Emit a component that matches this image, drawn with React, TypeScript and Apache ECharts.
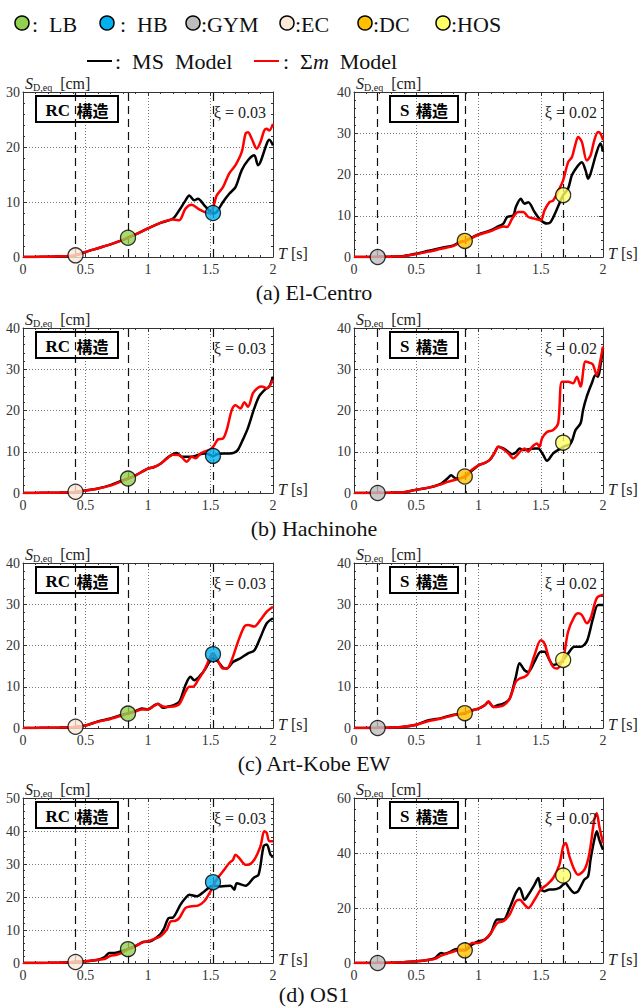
import React, { useEffect, useRef } from "react";
import * as echarts from "echarts";

const FONT = "'Liberation Serif', 'Times New Roman', serif";
const CJK = "'Noto Sans CJK JP', 'Noto Sans CJK SC', sans-serif";
const FRAME = "#333";

// ---------- data (T [s], S_D,eq [cm]) ----------
const elCentroRC_MS = [[0,0],[0.1,0.02],[0.2,0.06],[0.3,0.12],[0.4,0.25],[0.45,0.5],[0.5,0.9],[0.6,1.6],[0.7,2.3],[0.8,3.1],[0.84,3.5],[0.9,4.1],[1.0,5.2],[1.1,6.2],[1.2,7.0],[1.25,8.5],[1.3,10.3],[1.33,11.2],[1.37,10.3],[1.4,10.6],[1.45,9.4],[1.5,8.2],[1.52,7.9],[1.55,8.2],[1.6,10.0],[1.65,11.5],[1.7,12.7],[1.75,15.8],[1.8,17.6],[1.85,18.5],[1.88,16.7],[1.9,17.3],[1.95,20.6],[1.97,21.3],[2.0,20.3]];
const elCentroRC_Sm = [[0,0],[0.1,0.02],[0.2,0.06],[0.3,0.12],[0.4,0.25],[0.45,0.5],[0.5,0.9],[0.6,1.6],[0.7,2.3],[0.8,3.1],[0.84,3.5],[0.9,4.1],[1.0,5.2],[1.1,6.2],[1.2,6.8],[1.25,6.7],[1.3,8.8],[1.35,9.5],[1.4,8.8],[1.45,8.2],[1.5,7.9],[1.53,9.7],[1.55,11.2],[1.6,12.7],[1.65,15.2],[1.7,16.7],[1.75,19.1],[1.78,22.4],[1.8,22.7],[1.83,21.5],[1.87,19.7],[1.9,20.9],[1.93,23.0],[1.95,23.3],[1.97,23.0],[2.0,24.2]];

const elCentroS_MS = [[0,0],[0.1,0.01],[0.2,0.03],[0.3,0.08],[0.4,0.25],[0.5,0.8],[0.6,1.5],[0.7,2.2],[0.8,2.8],[0.85,3.6],[0.89,3.9],[0.95,4.8],[1.0,5.5],[1.1,6.5],[1.15,7.3],[1.2,8.1],[1.23,9.7],[1.28,10.1],[1.3,12.1],[1.34,14.1],[1.37,12.9],[1.4,13.3],[1.45,10.9],[1.5,8.9],[1.55,8.1],[1.58,8.5],[1.62,10.9],[1.68,15.0],[1.72,16.6],[1.75,19.8],[1.8,22.2],[1.83,23.0],[1.86,21.0],[1.88,19.0],[1.9,20.2],[1.95,25.5],[1.98,27.5],[2.0,25.5]];
const elCentroS_Sm = [[0,0],[0.1,0.01],[0.2,0.03],[0.3,0.08],[0.4,0.2],[0.5,0.7],[0.6,1.3],[0.7,2.0],[0.8,2.7],[0.85,3.5],[0.89,3.9],[0.95,4.7],[1.0,5.4],[1.1,6.3],[1.2,7.4],[1.23,7.3],[1.27,9.3],[1.32,10.9],[1.36,10.9],[1.4,9.7],[1.45,9.3],[1.5,8.9],[1.53,11.3],[1.57,13.3],[1.6,13.7],[1.65,16.6],[1.68,18.6],[1.72,23.0],[1.75,24.2],[1.78,27.5],[1.8,29.1],[1.83,27.9],[1.87,23.4],[1.9,24.6],[1.93,28.3],[1.96,30.3],[1.98,29.9],[2.0,28.3]];

const hachinoheRC_MS = [[0,0],[0.1,0.02],[0.2,0.05],[0.3,0.1],[0.4,0.2],[0.5,0.6],[0.6,1.1],[0.7,1.9],[0.8,3.1],[0.84,3.5],[0.9,4.3],[1.0,5.9],[1.05,6.3],[1.1,7.1],[1.15,8.4],[1.2,9.4],[1.23,9.7],[1.27,8.8],[1.3,8.8],[1.35,8.8],[1.4,9.2],[1.45,9.6],[1.5,9.2],[1.52,8.9],[1.55,9.4],[1.6,9.6],[1.65,9.6],[1.69,9.8],[1.72,10.5],[1.76,13.0],[1.8,15.8],[1.85,20.5],[1.89,23.5],[1.94,25.2],[1.97,25.8],[2.0,28.2]];
const hachinoheRC_Sm = [[0,0],[0.1,0.02],[0.2,0.05],[0.3,0.1],[0.4,0.2],[0.5,0.6],[0.6,1.1],[0.7,1.8],[0.8,3.0],[0.84,3.5],[0.9,4.3],[1.0,5.9],[1.05,6.3],[1.1,7.1],[1.15,8.3],[1.2,9.3],[1.25,9.2],[1.31,7.6],[1.35,8.8],[1.38,8.4],[1.42,9.6],[1.45,10.0],[1.5,10.6],[1.53,11.6],[1.56,13.0],[1.6,13.2],[1.63,15.3],[1.67,20.1],[1.7,21.3],[1.74,20.5],[1.77,22.0],[1.8,20.9],[1.84,24.2],[1.88,25.5],[1.91,25.8],[1.95,25.4],[2.0,27.4]];

const hachinoheS_MS = [[0,0],[0.1,0.01],[0.2,0.03],[0.3,0.08],[0.4,0.2],[0.5,0.8],[0.6,1.3],[0.7,2.3],[0.75,3.5],[0.78,4.3],[0.82,3.5],[0.89,3.9],[0.95,5.5],[1.0,6.7],[1.05,7.3],[1.09,8.0],[1.13,9.8],[1.16,11.2],[1.2,10.8],[1.23,10.2],[1.27,9.4],[1.3,9.8],[1.33,10.8],[1.36,10.4],[1.4,10.6],[1.45,10.8],[1.48,10.8],[1.52,9.2],[1.55,7.8],[1.6,9.6],[1.66,10.8],[1.68,11.2],[1.74,12.0],[1.78,15.3],[1.82,16.9],[1.84,20.1],[1.87,23.4],[1.91,26.6],[1.94,28.6],[1.96,28.2],[1.98,31.0],[2.0,35.1]];
const hachinoheS_Sm = [[0,0],[0.1,0.01],[0.2,0.03],[0.3,0.08],[0.4,0.2],[0.5,0.8],[0.6,1.3],[0.7,2.1],[0.75,2.7],[0.8,3.1],[0.85,3.5],[0.9,4.3],[0.95,5.7],[1.0,6.7],[1.05,7.3],[1.09,8.0],[1.13,9.8],[1.16,11.2],[1.2,10.6],[1.24,9.6],[1.28,8.4],[1.31,9.2],[1.34,10.2],[1.37,10.8],[1.4,10.0],[1.43,11.2],[1.47,12.0],[1.49,11.2],[1.51,13.2],[1.55,14.8],[1.6,15.3],[1.64,16.9],[1.67,27.0],[1.72,27.0],[1.76,26.6],[1.79,28.2],[1.82,25.8],[1.86,31.9],[1.9,31.5],[1.92,31.1],[1.95,28.6],[1.98,32.3],[2.0,35.5]];

const kobeRC_MS = [[0,0],[0.1,0.02],[0.2,0.05],[0.3,0.1],[0.4,0.2],[0.5,0.6],[0.6,1.6],[0.7,2.3],[0.8,3.3],[0.84,3.5],[0.9,4.1],[0.95,4.7],[1.0,4.5],[1.05,5.5],[1.08,5.9],[1.12,4.9],[1.15,5.1],[1.2,5.5],[1.25,6.3],[1.3,10.4],[1.34,12.4],[1.37,11.6],[1.42,12.8],[1.46,14.4],[1.5,16.5],[1.52,16.9],[1.56,16.1],[1.6,14.6],[1.63,14.4],[1.68,16.0],[1.74,16.9],[1.8,18.1],[1.85,18.8],[1.9,22.0],[1.95,25.4],[2.0,26.6]];
const kobeRC_Sm = [[0,0],[0.1,0.02],[0.2,0.05],[0.3,0.1],[0.4,0.2],[0.5,0.6],[0.6,1.5],[0.7,2.2],[0.8,3.1],[0.84,3.5],[0.9,4.0],[0.95,4.5],[1.0,4.5],[1.05,5.4],[1.08,5.8],[1.12,5.2],[1.15,5.1],[1.2,5.2],[1.25,5.8],[1.3,8.8],[1.33,10.0],[1.36,10.0],[1.4,11.6],[1.45,14.0],[1.5,17.3],[1.52,18.1],[1.55,16.9],[1.6,14.4],[1.63,14.4],[1.67,16.5],[1.72,20.9],[1.77,24.6],[1.8,25.0],[1.85,24.6],[1.9,26.2],[1.95,28.2],[2.0,29.4]];

const kobeS_MS = [[0,0],[0.1,0.01],[0.2,0.03],[0.3,0.1],[0.4,0.3],[0.5,0.8],[0.6,1.9],[0.7,2.4],[0.8,3.2],[0.89,3.5],[0.95,4.3],[1.0,4.7],[1.05,5.5],[1.08,6.3],[1.12,5.1],[1.15,5.5],[1.2,5.9],[1.25,7.1],[1.3,12.4],[1.33,15.7],[1.37,14.0],[1.4,13.6],[1.45,16.1],[1.5,18.5],[1.53,18.5],[1.57,16.5],[1.6,15.3],[1.65,15.7],[1.68,16.5],[1.72,18.1],[1.77,19.7],[1.82,19.7],[1.87,21.0],[1.92,26.6],[1.96,29.8],[2.0,29.8]];
const kobeS_Sm = [[0,0],[0.1,0.01],[0.2,0.03],[0.3,0.1],[0.4,0.3],[0.5,0.8],[0.6,1.7],[0.7,2.3],[0.8,3.1],[0.89,3.6],[0.95,4.3],[1.0,4.7],[1.05,5.5],[1.08,6.5],[1.12,5.1],[1.2,5.5],[1.25,7.1],[1.3,11.2],[1.33,12.0],[1.37,12.4],[1.4,13.2],[1.45,17.7],[1.5,21.3],[1.53,20.5],[1.57,16.5],[1.6,14.8],[1.63,14.4],[1.68,16.9],[1.72,23.4],[1.77,27.0],[1.8,27.8],[1.83,27.4],[1.87,25.4],[1.9,26.6],[1.95,31.5],[2.0,32.3]];

const os1RC_MS = [[0,0],[0.1,0.02],[0.2,0.05],[0.3,0.1],[0.4,0.3],[0.5,0.5],[0.6,1.0],[0.65,1.7],[0.69,3.0],[0.73,3.0],[0.78,3.5],[0.84,4.2],[0.9,5.1],[0.96,6.4],[1.02,6.6],[1.06,7.5],[1.1,8.8],[1.13,10.6],[1.165,13.6],[1.2,13.8],[1.26,17.7],[1.3,19.7],[1.33,20.7],[1.39,20.2],[1.45,21.7],[1.5,23.2],[1.52,23.4],[1.58,23.2],[1.66,23.4],[1.69,22.2],[1.71,24.2],[1.78,23.4],[1.845,25.8],[1.885,26.8],[1.925,35.4],[1.95,35.9],[1.98,32.8],[2.0,32.3]];
const os1RC_Sm = [[0,0],[0.1,0.02],[0.2,0.05],[0.3,0.1],[0.4,0.3],[0.5,0.5],[0.6,1.0],[0.65,1.2],[0.7,2.2],[0.75,2.5],[0.8,3.2],[0.84,4.2],[0.9,5.1],[0.95,6.1],[1.0,6.6],[1.05,7.3],[1.1,8.1],[1.15,10.1],[1.18,12.6],[1.22,12.8],[1.25,13.6],[1.3,16.7],[1.35,17.2],[1.4,17.4],[1.45,18.7],[1.5,21.7],[1.52,23.4],[1.55,25.3],[1.6,27.8],[1.65,30.3],[1.68,31.3],[1.7,32.8],[1.73,31.8],[1.78,29.8],[1.8,29.8],[1.85,31.3],[1.9,35.4],[1.93,39.9],[1.95,39.4],[1.97,36.9],[2.0,36.9]];

const os1S_MS = [[0,0],[0.1,0.01],[0.2,0.03],[0.3,0.1],[0.4,0.3],[0.5,0.6],[0.6,1.2],[0.65,1.8],[0.7,3.6],[0.73,3.4],[0.78,4.2],[0.82,5.1],[0.85,4.6],[0.89,4.6],[0.95,6.7],[1.0,7.9],[1.05,8.5],[1.1,10.9],[1.15,15.8],[1.2,15.8],[1.25,20.0],[1.3,25.5],[1.33,27.3],[1.37,23.0],[1.4,24.8],[1.45,28.5],[1.48,30.9],[1.5,27.3],[1.53,26.1],[1.57,26.7],[1.6,26.7],[1.65,27.3],[1.68,28.5],[1.7,29.1],[1.72,27.9],[1.77,25.5],[1.8,26.1],[1.85,30.3],[1.88,31.5],[1.9,37.6],[1.93,44.8],[1.95,47.9],[1.97,44.8],[2.0,41.2]];
const os1S_Sm = [[0,0],[0.1,0.01],[0.2,0.03],[0.3,0.1],[0.4,0.3],[0.5,0.6],[0.6,1.1],[0.65,1.5],[0.7,2.7],[0.75,3.4],[0.8,4.2],[0.85,4.8],[0.89,4.8],[0.95,7.3],[1.0,7.3],[1.05,8.5],[1.1,10.9],[1.15,14.5],[1.2,15.2],[1.25,17.6],[1.3,22.4],[1.33,23.0],[1.37,21.2],[1.4,20.0],[1.45,23.0],[1.5,26.7],[1.55,28.5],[1.6,30.9],[1.65,35.8],[1.68,42.4],[1.7,43.6],[1.73,38.8],[1.77,33.9],[1.8,32.1],[1.85,33.9],[1.88,37.6],[1.9,42.4],[1.93,52.1],[1.95,54.5],[1.97,49.7],[2.0,43.6]];

// marker periods and names
const rcMarkerT = [0.42, 0.84, 1.52];
const rcMarkerNames = ["EC", "LB", "HB"];
const sMarkerT = [0.19, 0.89, 1.68];
const sMarkerNames = ["GYM", "DC", "HOS"];

const elCentroRC_Markers = [0.3, 3.5, 8.0];
const elCentroS_Markers = [0, 3.9, 15.0];
const hachinoheRC_Markers = [0.3, 3.5, 9.0];
const hachinoheS_Markers = [0, 4.0, 12.2];
const kobeRC_Markers = [0.3, 3.5, 17.9];
const kobeS_Markers = [0, 3.6, 16.5];
const os1RC_Markers = [0.3, 4.2, 24.5];
const os1S_Markers = [0, 4.6, 31.8];

const yMaxes = [30, 40, 40, 40, 40, 40, 50, 60];
const yIntervals = [10, 10, 10, 10, 10, 10, 10, 20];
const captions = ["(a) El-Centro", "(b) Hachinohe", "(c) Art-Kobe EW", "(d) OS1"];
const dampingLabels = ["ξ = 0.03", "ξ = 0.02"];
const structureLabels = ["RC", "S"];

const markerColors: Record<string, string> = {
  LB: "#92D050",
  HB: "#00B0F0",
  GYM: "#BDBDBD",
  EC: "#FBE9D7",
  DC: "#FFC000",
  HOS: "#FFFF66",
};
const legendOrder = ["LB", "HB", "GYM", "EC", "DC", "HOS"];

const panels = [
  { ms: elCentroRC_MS, sm: elCentroRC_Sm, mv: elCentroRC_Markers },
  { ms: elCentroS_MS, sm: elCentroS_Sm, mv: elCentroS_Markers },
  { ms: hachinoheRC_MS, sm: hachinoheRC_Sm, mv: hachinoheRC_Markers },
  { ms: hachinoheS_MS, sm: hachinoheS_Sm, mv: hachinoheS_Markers },
  { ms: kobeRC_MS, sm: kobeRC_Sm, mv: kobeRC_Markers },
  { ms: kobeS_MS, sm: kobeS_Sm, mv: kobeS_Markers },
  { ms: os1RC_MS, sm: os1RC_Sm, mv: os1RC_Markers },
  { ms: os1S_MS, sm: os1S_Sm, mv: os1S_Markers },
];

const ROW_TOPS = [92, 328, 563, 798];
const GRID_H = 165;

function buildOption() {
  const grid: any[] = [];
  const xAxis: any[] = [];
  const yAxis: any[] = [];
  const series: any[] = [];
  const graphic: any[] = [];

  const tickStyle = { lineStyle: { color: FRAME, width: 1 } };
  const axisLine = { show: true, onZero: false, lineStyle: { color: FRAME, width: 1 } };

  panels.forEach((p, i) => {
    const col = i % 2;
    const row = Math.floor(i / 2);
    const left = col === 0 ? 23 : 354;
    const width = col === 0 ? 250 : 249;
    const top = ROW_TOPS[row];
    grid.push({ left, top, width, height: GRID_H });

    const common = {
      type: "value",
      gridIndex: i,
      axisLine,
      axisTick: { show: true, inside: true, length: 4, ...tickStyle },
      minorTick: { show: true, splitNumber: 5, length: 2, ...tickStyle },
      minorSplitLine: { show: false },
    };
    xAxis.push({
      ...common,
      min: 0,
      max: 2,
      interval: 0.5,
      position: "bottom",
      splitLine: { show: true, lineStyle: { type: [1, 2], color: "#777", width: 1 } },
      axisLabel: { fontFamily: FONT, fontSize: 14, color: "#333", margin: 5, formatter: (v: number) => String(v) },
      name: "{i|T} [s]",
      nameLocation: "end",
      nameGap: 5,
      nameTextStyle: {
        fontFamily: FONT,
        fontSize: 16,
        color: "#222",
        align: "left",
        verticalAlign: "middle",
        padding: [0, 0, 8, 0],
        rich: { i: { fontFamily: FONT, fontSize: 16, fontStyle: "italic", color: "#222" } },
      },
    });
    xAxis.push({
      ...common,
      min: 0,
      max: 2,
      interval: 0.5,
      position: "top",
      splitLine: { show: false },
      axisLabel: { show: false },
    });
    yAxis.push({
      ...common,
      min: 0,
      max: yMaxes[i],
      interval: yIntervals[i],
      position: "left",
      splitLine: { show: true, lineStyle: { type: [1, 2], color: "#777", width: 1 } },
      axisLabel: { fontFamily: FONT, fontSize: 14, color: "#333", margin: 3 },
      name: "{i|S}{s|D,eq}  {n|[cm]}",
      nameLocation: "end",
      nameGap: 0,
      nameTextStyle: {
        fontFamily: FONT,
        fontSize: 16,
        color: "#222",
        align: "left",
        verticalAlign: "bottom",
        padding: [0, 0, 0, 2],
        rich: {
          i: { fontFamily: FONT, fontSize: 16, fontStyle: "italic", color: "#222", lineHeight: 17, verticalAlign: "top" },
          s: { fontFamily: FONT, fontSize: 10, color: "#222", lineHeight: 8, verticalAlign: "bottom" },
          n: { fontFamily: FONT, fontSize: 16, color: "#222", lineHeight: 17, verticalAlign: "top" },
        },
      },
    });
    yAxis.push({
      ...common,
      min: 0,
      max: yMaxes[i],
      interval: yIntervals[i],
      position: "right",
      splitLine: { show: false },
      axisLabel: { show: false },
    });

    const xi = 2 * i;
    const yi = 2 * i;
    const mT = col === 0 ? rcMarkerT : sMarkerT;
    const mN = col === 0 ? rcMarkerNames : sMarkerNames;

    series.push({
      type: "line",
      name: "MS Model",
      xAxisIndex: xi,
      yAxisIndex: yi,
      data: p.ms,
      showSymbol: false,
      smooth: 0.3,
      lineStyle: { color: "#000", width: 2.5 },
      z: 3,
      markLine: {
        silent: true,
        symbol: "none",
        label: { show: false },
        lineStyle: { color: "#111", width: 1.2, type: [8, 5] },
        data: mT.map((t) => ({ xAxis: t })),
        z: 1,
      },
    });
    series.push({
      type: "line",
      name: "Σm Model",
      xAxisIndex: xi,
      yAxisIndex: yi,
      data: p.sm,
      showSymbol: false,
      smooth: 0.3,
      lineStyle: { color: "#FF0000", width: 2.5 },
      z: 4,
    });
    series.push({
      type: "scatter",
      xAxisIndex: xi,
      yAxisIndex: yi,
      symbolSize: 15,
      z: 6,
      data: mT.map((t, k) => ({
        value: [t, p.mv[k]],
        name: mN[k],
        itemStyle: { color: markerColors[mN[k]], borderColor: "#000", borderWidth: 1.3 },
      })),
    });

    // structure label box
    const boxW = col === 0 ? 82 : 68;
    const boxX = col === 0 ? left + 13 : left + 36;
    const boxY = top + 4;
    graphic.push({
      type: "rect",
      shape: { x: boxX, y: boxY, width: boxW, height: 26 },
      style: { fill: "rgba(0,0,0,0)", stroke: "#000", lineWidth: 2 },
      z: 10,
    });
    graphic.push({
      type: "text",
      x: boxX + boxW / 2,
      y: boxY + 14,
      z: 10,
      style: {
        text: `{a|${structureLabels[col]}}  {b|構造}`,
        align: "center",
        verticalAlign: "middle",
        rich: {
          a: { fontFamily: FONT, fontWeight: "bold", fontSize: 17, fill: "#000" },
          b: { fontFamily: CJK, fontWeight: "bold", fontSize: 16, fill: "#000" },
        },
      },
    });
    graphic.push({
      type: "text",
      x: left + 243,
      y: top + 20,
      z: 10,
      style: {
        text: dampingLabels[col],
        align: "right",
        verticalAlign: "middle",
        fontFamily: FONT,
        fontSize: 16,
        fill: "#222",
      },
    });
  });

  captions.forEach((c, r) => {
    graphic.push({
      type: "text",
      x: 314,
      y: ROW_TOPS[r] + (r === 3 ? 196 : 200),
      style: { text: c, align: "center", verticalAlign: "middle", fontFamily: FONT, fontSize: 22, fill: "#111" },
    });
  });

  // legend row 1: markers
  const legCx = [22, 107, 193, 287, 365, 443];
  const legTextX = [32, 120, 201, 295, 373, 451];
  const legTexts = [":  LB", ":  HB", ":GYM", ":EC", ":DC", ":HOS"];
  legendOrder.forEach((n, k) => {
    graphic.push({
      type: "circle",
      shape: { cx: legCx[k], cy: 23, r: 7 },
      style: { fill: markerColors[n], stroke: "#000", lineWidth: 1.5 },
    });
    graphic.push({
      type: "text",
      x: legTextX[k],
      y: 24,
      style: { text: legTexts[k], align: "left", verticalAlign: "middle", fontFamily: FONT, fontSize: 22, fill: "#111" },
    });
  });
  // legend row 2: lines
  graphic.push({ type: "line", shape: { x1: 87, y1: 61, x2: 112, y2: 61 }, style: { stroke: "#000", lineWidth: 2 } });
  graphic.push({
    type: "text",
    x: 115,
    y: 61,
    style: { text: ":  MS  Model", align: "left", verticalAlign: "middle", fontFamily: FONT, fontSize: 22, fill: "#111" },
  });
  graphic.push({ type: "line", shape: { x1: 254, y1: 61, x2: 279, y2: 61 }, style: { stroke: "#FF0000", lineWidth: 2 } });
  graphic.push({
    type: "text",
    x: 283,
    y: 61,
    style: {
      text: ":  Σ{m|m}  Model",
      align: "left",
      verticalAlign: "middle",
      fontFamily: FONT,
      fontSize: 22,
      fill: "#111",
      rich: { m: { fontFamily: FONT, fontSize: 22, fontStyle: "italic", fill: "#111" } },
    },
  });

  return {
    animation: false,
    backgroundColor: "#fff",
    grid,
    xAxis,
    yAxis,
    series,
    graphic,
  };
}

export default function App() {
  const ref = useRef<HTMLDivElement>(null);
  useEffect(() => {
    if (!ref.current) return;
    const chart = echarts.init(ref.current, undefined, { renderer: "svg" });
    chart.setOption(buildOption() as any);
    return () => chart.dispose();
  }, []);
  return (
    <div
      ref={ref}
      style={{ position: "absolute", left: 0, top: 0, width: 643, height: 1008, background: "#fff" }}
    />
  );
}
